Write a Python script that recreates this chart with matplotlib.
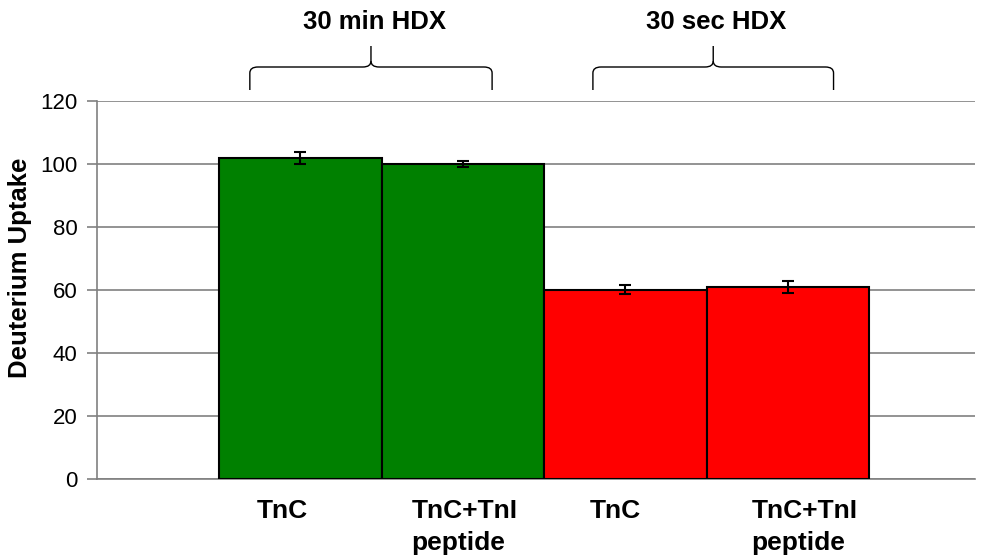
import matplotlib
matplotlib.use("Agg")
import matplotlib.pyplot as plt
from matplotlib.path import Path
from matplotlib.patches import PathPatch
from matplotlib.transforms import blended_transform_factory

plt.rcParams['font.family'] = ['Liberation Sans', 'DejaVu Sans']

labels = ["TnC", "TnC+TnI\npeptide", "TnC", "TnC+TnI\npeptide"]
uptake = [101.9, 100.1, 60.1, 61.0]
errors = [2.0, 1.0, 1.5, 2.0]
colors = ["#008000", "#008000", "#ff0000", "#ff0000"]
groups = ["30 min HDX", "30 sec HDX"]
# brace spans in bar units (left, right)
brace_spans = [(-0.31, 1.18), (1.80, 3.28)]
# small horizontal nudges of the category labels, in bar units
label_shift = [-0.11, 0.01, -0.06, 0.10]

fig = plt.figure(figsize=(9.82, 5.6), dpi=100)
ax = fig.add_axes([97 / 982, 1 - 479 / 560, 878 / 982, 378 / 560])

x = list(range(len(uptake)))
ax.bar(x, uptake, width=1.0, color=colors, edgecolor="black", linewidth=1.5, zorder=3)
ax.errorbar(x, uptake, yerr=errors, fmt="none", ecolor="black", elinewidth=1.5,
            capsize=4, capthick=1.5, zorder=4)

ax.set_xlim(-1.25, 4.15)
ax.set_ylim(0, 120)
ax.set_yticks(range(0, 121, 20))
ax.yaxis.grid(True, color="#808080", linewidth=1.2, zorder=0)
ax.set_axisbelow(True)
for s in ["top", "right"]:
    ax.spines[s].set_visible(False)
for s in ["left", "bottom"]:
    ax.spines[s].set_color("#808080")
    ax.spines[s].set_linewidth(1.2)
ax.tick_params(axis="y", direction="out", length=7, color="#808080", width=1.2,
               labelsize=16, pad=7)
ax.set_xticks([])
ax.set_ylabel("Deuterium Uptake", fontsize=18.5, fontweight="bold")
ax.yaxis.set_label_coords(-65 / 878, (479 - 268) / 378)

trx = blended_transform_factory(ax.transData, ax.transAxes)
for xi, lab, sh in zip(x, labels, label_shift):
    ax.text(xi + sh, -20 / 378, lab, transform=trx, fontsize=19, fontweight="bold",
            ha="center", va="top", multialignment="left", linespacing=1.4)

# curly braces above the groups
tr = blended_transform_factory(ax.transData, fig.transFigure)
H = 560.0
for (x0, x1), name in zip(brace_spans, groups):
    xc = (x0 + x1) / 2
    d = 0.05
    yb, yh, yt = 1 - 90 / H, 1 - 67 / H, 1 - 46 / H
    r = 6 / H
    verts = [
        (x0, yb), (x0, yh - r), (x0, yh), (x0 + d, yh),
        (xc - d, yh), (xc, yh), (xc, yh + r), (xc, yt),
    ]
    codes = [Path.MOVETO, Path.LINETO, Path.CURVE3, Path.CURVE3,
             Path.LINETO, Path.CURVE3, Path.CURVE3, Path.LINETO]
    ax.add_patch(PathPatch(Path(verts, codes), fill=False, color="black",
                           linewidth=1.0, transform=tr, clip_on=False))
    verts2 = [(x1, yb), (x1, yh - r), (x1, yh), (x1 - d, yh),
              (xc + d, yh), (xc, yh), (xc, yh + r)]
    codes2 = [Path.MOVETO, Path.LINETO, Path.CURVE3, Path.CURVE3,
              Path.LINETO, Path.CURVE3, Path.CURVE3]
    ax.add_patch(PathPatch(Path(verts2, codes2), fill=False, color="black",
                           linewidth=1.0, transform=tr, clip_on=False))
    ax.text(xc + 0.02, 1 - 22 / H, name, transform=tr, fontsize=18.5,
            fontweight="bold", ha="center", va="center")

fig.savefig("out.png", dpi=100)
